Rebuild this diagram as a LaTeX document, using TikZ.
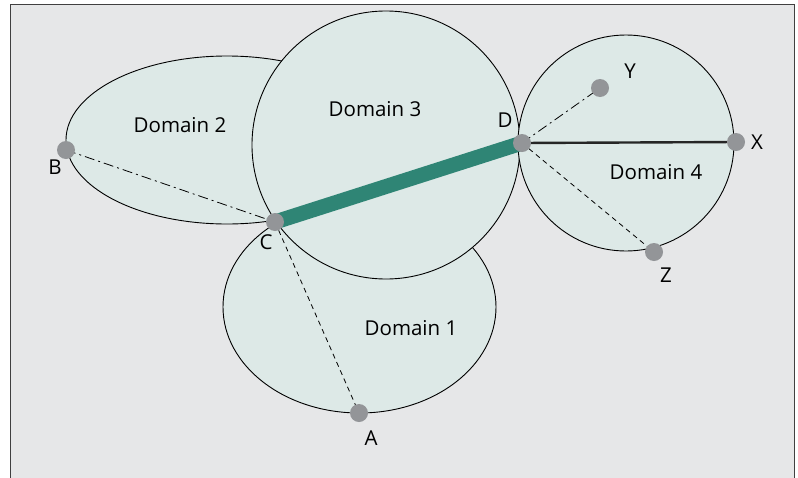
\documentclass[tikz,border=0pt]{standalone}
\usepackage{fontspec}
\setmainfont{Open Sans}
\definecolor{panelbg}{RGB}{230,231,232}
\definecolor{domainfill}{RGB}{221,233,231}
\definecolor{dotgray}{RGB}{147,149,152}
\definecolor{linkteal}{RGB}{47,133,117}
\pgfdeclarelayer{panel}
\pgfdeclarelayer{domains}
\pgfdeclarelayer{links}
\pgfsetlayers{panel,domains,links,main}
\tikzset{
  domainshape/.style={fill=domainfill, draw=black, line width=0.9pt},
  pt/.style={circle, fill=dotgray, minimum size=18pt, inner sep=0pt},
  lbl/.style={font=\fontsize{20.5}{24}\selectfont, inner sep=0pt},
  dashdot/.style={line width=0.8pt, dash pattern=on 10pt off 4pt on 2pt off 4pt},
  dashline/.style={line width=0.8pt, dash pattern=on 5pt off 4pt},
  thicklink/.style={line width=15pt, draw=linkteal},
  solidlink/.style={line width=2.4pt, draw=black!85},
}
\begin{document}
\begin{tikzpicture}[x=1pt, y=-1pt]
  \useasboundingbox (0,0) rectangle (798,477);

  % panel
  \begin{pgfonlayer}{panel}
    \fill[white] (0,0) rectangle (798,477);
    \draw[fill=panelbg, draw=black!75, line width=1.2pt] (10.5,4.5) -- (794.5,4.5) -- (794.5,490) -- (10.5,490) -- cycle;
  \end{pgfonlayer}

  % domains
  \begin{pgfonlayer}{domains}
    \draw[domainshape] (227,140) ellipse [x radius=161, y radius=84];
    \draw[domainshape] (359.5,307) ellipse [x radius=136.5, y radius=106];
    \draw[domainshape] (386,145) circle [radius=134];
    \draw[domainshape] (626,143) circle [radius=108];
  \end{pgfonlayer}

  % domain labels
  \node[lbl] (d2) at (180,125) {Domain 2};
  \node[lbl] (d3) at (375,109) {Domain 3};
  \node[lbl] (d4) at (656,172) {Domain 4};
  \node[lbl] (d1) at (411,328) {Domain 1};

  % points
  \node[pt] (A) at (359,413) {};
  \node[pt] (B) at (66,150) {};
  \node[pt] (C) at (275,222) {};
  \node[pt] (D) at (522,143) {};
  \node[pt] (X) at (736,142) {};
  \node[pt] (Y) at (600,88) {};
  \node[pt] (Z) at (654,252) {};

  % point labels
  \node[lbl] (lA) at (371,438) {A};
  \node[lbl] (lB) at (55,167) {B};
  \node[lbl] (lC) at (266,242) {C};
  \node[lbl] (lD) at (505,120) {D};
  \node[lbl] (lX) at (757,142) {X};
  \node[lbl] (lY) at (630,71) {Y};
  \node[lbl] (lZ) at (666,275) {Z};

  % links
  \begin{pgfonlayer}{links}
    \draw[dashdot] (B.center) -- (C.center);
    \draw[dashline] (C.center) -- (A.center);
    \draw[thicklink] (C.center) -- (D.center);
    \draw[solidlink] (D.center) -- (X.center);
    \draw[dashdot] (D.center) -- (Y.center);
    \draw[dashline] (D.center) -- (Z.center);
  \end{pgfonlayer}
\end{tikzpicture}
\end{document}
